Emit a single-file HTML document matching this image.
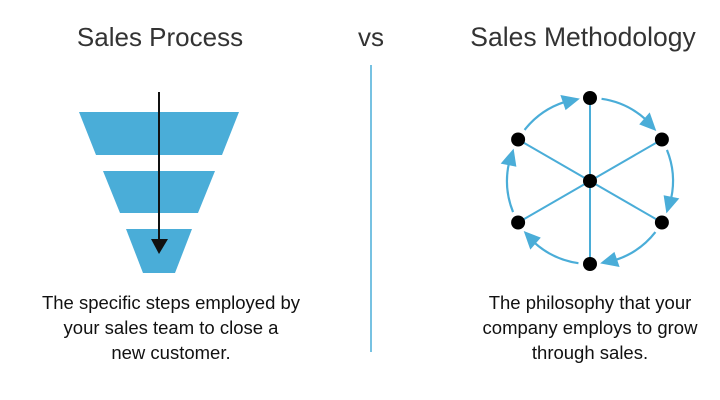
<!DOCTYPE html>
<html><head><style>
body{margin:0;background:#fff;width:720px;height:400px;overflow:hidden;font-family:"Liberation Sans",sans-serif;color:#333}
.t{position:absolute;font-size:26px;top:22px;white-space:nowrap;transform:translateX(-50%)}
.b{position:absolute;font-size:18.5px;line-height:25px;text-align:center;top:290px;white-space:nowrap;transform:translateX(-50%);color:#111}
</style></head><body>
<div class="t" style="left:160px">Sales Process</div>
<div class="t" style="left:371px">vs</div>
<div class="t" style="left:583px;font-size:26.5px">Sales Methodology</div>
<div class="b" style="left:171px">The specific steps employed by</br>your sales team to close a<br>new customer.</div>
<div class="b" style="left:590px">The philosophy that your<br>company employs to grow<br>through sales.</div>
<svg id="s" width="720" height="400" style="position:absolute;left:0;top:0">
<line x1="371" y1="65" x2="371" y2="352" stroke="#4aadd8" stroke-width="1.5"/>
<polygon points="79,112 239,112 222,155 96,155" fill="#4aadd8"/>
<polygon points="103,171 215,171 198,213 120,213" fill="#4aadd8"/>
<polygon points="126,229 192,229 175,273 143,273" fill="#4aadd8"/>
<line x1="159" y1="92" x2="159" y2="242" stroke="#111" stroke-width="2"/>
<polygon points="151,239 168,239 159,254" fill="#111"/>
</svg>
<script>
var s=document.getElementById('s'),cx=590,cy=181,R=83,h='';
function p(a,r){a=a*Math.PI/180;return [cx+r*Math.cos(a),cy+r*Math.sin(a)];}
for(var i=0;i<6;i++){var a=-90+60*i;var n=p(a,R);
h+='<line x1="'+cx+'" y1="'+cy+'" x2="'+n[0]+'" y2="'+n[1]+'" stroke="#4aadd8" stroke-width="2"/>';
var s0=p(a+8,R),s1=p(a+42,R);
h+='<path d="M'+s0+' A'+R+' '+R+' 0 0 1 '+s1+'" fill="none" stroke="#4aadd8" stroke-width="2.2"/>';
var tip=p(a+53,R),b1=p(a+41,R-8),b2=p(a+41,R+8);
h+='<polygon points="'+tip+' '+b1+' '+b2+'" fill="#4aadd8"/>';}
for(var i=0;i<6;i++){var n=p(-90+60*i,R);h+='<circle cx="'+n[0]+'" cy="'+n[1]+'" r="7" fill="#000"/>';}
h+='<circle cx="'+cx+'" cy="'+cy+'" r="7" fill="#000"/>';
s.insertAdjacentHTML('beforeend',h);
</script>
</body></html>
